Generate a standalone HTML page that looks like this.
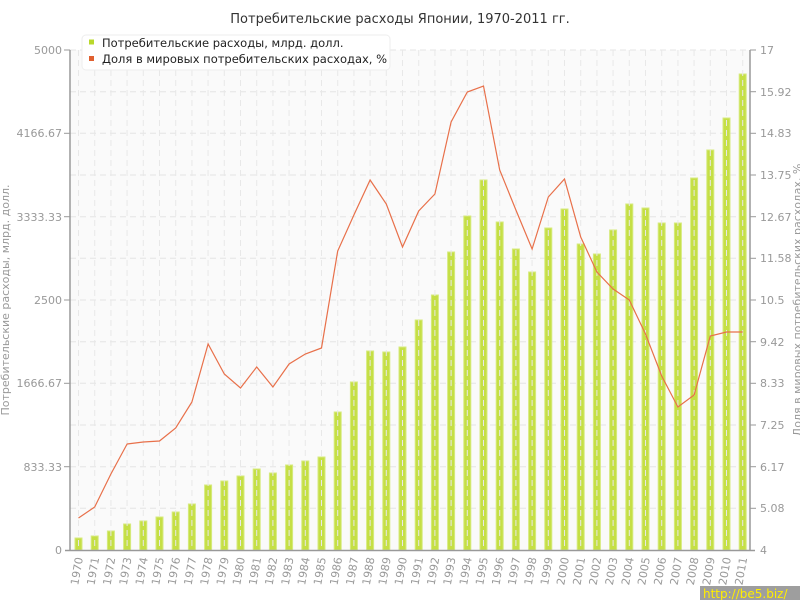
<!DOCTYPE html>
<html><head><meta charset="utf-8"><style>
html,body{margin:0;padding:0;background:#fff;}
svg{display:block;font-family:"DejaVu Sans","Liberation Sans",sans-serif;}
.t{font-size:11px;fill:#999;}
</style></head><body>
<svg width="800" height="600" viewBox="0 0 800 600">
<rect x="70" y="50" width="680" height="500" fill="#fafafa"/>
<g stroke="#e4e4e4" stroke-dasharray="6,4" stroke-width="1">
<line x1="70" x2="750" y1="91.7" y2="91.7"/><line x1="70" x2="750" y1="133.3" y2="133.3"/><line x1="70" x2="750" y1="175" y2="175"/><line x1="70" x2="750" y1="216.7" y2="216.7"/><line x1="70" x2="750" y1="258.3" y2="258.3"/><line x1="70" x2="750" y1="300" y2="300"/><line x1="70" x2="750" y1="341.7" y2="341.7"/><line x1="70" x2="750" y1="383.3" y2="383.3"/><line x1="70" x2="750" y1="425" y2="425"/><line x1="70" x2="750" y1="466.7" y2="466.7"/><line x1="70" x2="750" y1="508.3" y2="508.3"/><line x1="70" x2="750" y1="50" y2="50"/>
</g>
<g fill="#c5df45" stroke="#d6ea7e" stroke-width="1">
<rect x="75" y="538" width="7" height="12"/><rect x="91.2" y="536" width="7" height="14"/><rect x="107.4" y="531" width="7" height="19"/><rect x="123.6" y="524" width="7" height="26"/><rect x="139.8" y="521" width="7" height="29"/><rect x="156" y="517" width="7" height="33"/><rect x="172.2" y="512" width="7" height="38"/><rect x="188.4" y="504" width="7" height="46"/><rect x="204.6" y="485" width="7" height="65"/><rect x="220.8" y="481" width="7" height="69"/><rect x="237" y="476" width="7" height="74"/><rect x="253.2" y="469" width="7" height="81"/><rect x="269.4" y="473" width="7" height="77"/><rect x="285.6" y="465" width="7" height="85"/><rect x="301.8" y="461" width="7" height="89"/><rect x="318" y="457" width="7" height="93"/><rect x="334.2" y="412" width="7" height="138"/><rect x="350.4" y="382" width="7" height="168"/><rect x="366.6" y="351" width="7" height="199"/><rect x="382.8" y="352" width="7" height="198"/><rect x="399" y="347" width="7" height="203"/><rect x="415.2" y="320" width="7" height="230"/><rect x="431.4" y="295" width="7" height="255"/><rect x="447.6" y="252" width="7" height="298"/><rect x="463.8" y="216" width="7" height="334"/><rect x="480" y="180" width="7" height="370"/><rect x="496.2" y="222" width="7" height="328"/><rect x="512.4" y="249" width="7" height="301"/><rect x="528.6" y="272" width="7" height="278"/><rect x="544.8" y="228" width="7" height="322"/><rect x="561" y="209" width="7" height="341"/><rect x="577.2" y="244" width="7" height="306"/><rect x="593.4" y="254" width="7" height="296"/><rect x="609.6" y="230" width="7" height="320"/><rect x="625.8" y="204" width="7" height="346"/><rect x="642" y="208" width="7" height="342"/><rect x="658.2" y="223" width="7" height="327"/><rect x="674.4" y="223" width="7" height="327"/><rect x="690.6" y="178" width="7" height="372"/><rect x="706.8" y="150" width="7" height="400"/><rect x="723" y="118" width="7" height="432"/><rect x="739.2" y="74" width="7" height="476"/>
</g>
<g stroke="#e8e8e8" stroke-dasharray="6,4" stroke-width="1">
<line x1="78.5" x2="78.5" y1="50" y2="550"/><line x1="94.7" x2="94.7" y1="50" y2="550"/><line x1="110.9" x2="110.9" y1="50" y2="550"/><line x1="127.1" x2="127.1" y1="50" y2="550"/><line x1="143.3" x2="143.3" y1="50" y2="550"/><line x1="159.5" x2="159.5" y1="50" y2="550"/><line x1="175.7" x2="175.7" y1="50" y2="550"/><line x1="191.9" x2="191.9" y1="50" y2="550"/><line x1="208.1" x2="208.1" y1="50" y2="550"/><line x1="224.3" x2="224.3" y1="50" y2="550"/><line x1="240.5" x2="240.5" y1="50" y2="550"/><line x1="256.7" x2="256.7" y1="50" y2="550"/><line x1="272.9" x2="272.9" y1="50" y2="550"/><line x1="289.1" x2="289.1" y1="50" y2="550"/><line x1="305.3" x2="305.3" y1="50" y2="550"/><line x1="321.5" x2="321.5" y1="50" y2="550"/><line x1="337.7" x2="337.7" y1="50" y2="550"/><line x1="353.9" x2="353.9" y1="50" y2="550"/><line x1="370.1" x2="370.1" y1="50" y2="550"/><line x1="386.3" x2="386.3" y1="50" y2="550"/><line x1="402.5" x2="402.5" y1="50" y2="550"/><line x1="418.7" x2="418.7" y1="50" y2="550"/><line x1="434.9" x2="434.9" y1="50" y2="550"/><line x1="451.1" x2="451.1" y1="50" y2="550"/><line x1="467.3" x2="467.3" y1="50" y2="550"/><line x1="483.5" x2="483.5" y1="50" y2="550"/><line x1="499.7" x2="499.7" y1="50" y2="550"/><line x1="515.9" x2="515.9" y1="50" y2="550"/><line x1="532.1" x2="532.1" y1="50" y2="550"/><line x1="548.3" x2="548.3" y1="50" y2="550"/><line x1="564.5" x2="564.5" y1="50" y2="550"/><line x1="580.7" x2="580.7" y1="50" y2="550"/><line x1="596.9" x2="596.9" y1="50" y2="550"/><line x1="613.1" x2="613.1" y1="50" y2="550"/><line x1="629.3" x2="629.3" y1="50" y2="550"/><line x1="645.5" x2="645.5" y1="50" y2="550"/><line x1="661.7" x2="661.7" y1="50" y2="550"/><line x1="677.9" x2="677.9" y1="50" y2="550"/><line x1="694.1" x2="694.1" y1="50" y2="550"/><line x1="710.3" x2="710.3" y1="50" y2="550"/><line x1="726.5" x2="726.5" y1="50" y2="550"/><line x1="742.7" x2="742.7" y1="50" y2="550"/>
</g>
<polyline fill="none" stroke="#e8704a" stroke-width="1.2" points="78.5,518 94.7,507 110.9,474 127.1,444 143.3,442 159.5,441 175.7,428 191.9,402 208.1,344 224.3,374 240.5,388 256.7,367 272.9,387 289.1,364 305.3,354 321.5,348 337.7,251 353.9,215 370.1,180 386.3,204 402.5,247 418.7,211 434.9,194 451.1,122 467.3,92 483.5,86 499.7,170 515.9,210 532.1,249 548.3,197 564.5,179 580.7,237 596.9,272 613.1,289 629.3,300 645.5,334 661.7,376 677.9,407 694.1,395 710.3,336 726.5,332 742.7,332"/>
<g stroke="#999" stroke-width="1.5">
<line x1="70" x2="70" y1="50" y2="551"/><line x1="750" x2="750" y1="50" y2="551"/><line x1="65" x2="755" y1="550.5" y2="550.5"/>
</g>
<g stroke="#999" stroke-width="1">
<line x1="64" x2="70" y1="50" y2="50"/><line x1="64" x2="70" y1="133.3" y2="133.3"/><line x1="64" x2="70" y1="216.7" y2="216.7"/><line x1="64" x2="70" y1="300" y2="300"/><line x1="64" x2="70" y1="383.3" y2="383.3"/><line x1="64" x2="70" y1="466.7" y2="466.7"/>
<line x1="750" x2="756" y1="50" y2="50"/><line x1="750" x2="756" y1="91.7" y2="91.7"/><line x1="750" x2="756" y1="133.3" y2="133.3"/><line x1="750" x2="756" y1="175" y2="175"/><line x1="750" x2="756" y1="216.7" y2="216.7"/><line x1="750" x2="756" y1="258.3" y2="258.3"/><line x1="750" x2="756" y1="300" y2="300"/><line x1="750" x2="756" y1="341.7" y2="341.7"/><line x1="750" x2="756" y1="383.3" y2="383.3"/><line x1="750" x2="756" y1="425" y2="425"/><line x1="750" x2="756" y1="466.7" y2="466.7"/><line x1="750" x2="756" y1="508.3" y2="508.3"/>
</g>
<g class="t" text-anchor="end">
<text x="62" y="54">5000</text><text x="62" y="137">4166.67</text><text x="62" y="221">3333.33</text><text x="62" y="304">2500</text><text x="62" y="387">1666.67</text><text x="62" y="471">833.33</text><text x="62" y="554">0</text>
</g>
<g class="t">
<text x="760" y="54">17</text><text x="760" y="96">15.92</text><text x="760" y="137">14.83</text><text x="760" y="179">13.75</text><text x="760" y="221">12.67</text><text x="760" y="262">11.58</text><text x="760" y="304">10.5</text><text x="760" y="346">9.42</text><text x="760" y="387">8.33</text><text x="760" y="429">7.25</text><text x="760" y="471">6.17</text><text x="760" y="512">5.08</text><text x="760" y="554">4</text>
</g>
<g class="t" text-anchor="end" font-size="12">
<text transform="translate(83,558) rotate(-80)">1970</text><text transform="translate(99.2,558) rotate(-80)">1971</text><text transform="translate(115.4,558) rotate(-80)">1972</text><text transform="translate(131.6,558) rotate(-80)">1973</text><text transform="translate(147.8,558) rotate(-80)">1974</text><text transform="translate(164,558) rotate(-80)">1975</text><text transform="translate(180.2,558) rotate(-80)">1976</text><text transform="translate(196.4,558) rotate(-80)">1977</text><text transform="translate(212.6,558) rotate(-80)">1978</text><text transform="translate(228.8,558) rotate(-80)">1979</text><text transform="translate(245,558) rotate(-80)">1980</text><text transform="translate(261.2,558) rotate(-80)">1981</text><text transform="translate(277.4,558) rotate(-80)">1982</text><text transform="translate(293.6,558) rotate(-80)">1983</text><text transform="translate(309.8,558) rotate(-80)">1984</text><text transform="translate(326,558) rotate(-80)">1985</text><text transform="translate(342.2,558) rotate(-80)">1986</text><text transform="translate(358.4,558) rotate(-80)">1987</text><text transform="translate(374.6,558) rotate(-80)">1988</text><text transform="translate(390.8,558) rotate(-80)">1989</text><text transform="translate(407,558) rotate(-80)">1990</text><text transform="translate(423.2,558) rotate(-80)">1991</text><text transform="translate(439.4,558) rotate(-80)">1992</text><text transform="translate(455.6,558) rotate(-80)">1993</text><text transform="translate(471.8,558) rotate(-80)">1994</text><text transform="translate(488,558) rotate(-80)">1995</text><text transform="translate(504.2,558) rotate(-80)">1996</text><text transform="translate(520.4,558) rotate(-80)">1997</text><text transform="translate(536.6,558) rotate(-80)">1998</text><text transform="translate(552.8,558) rotate(-80)">1999</text><text transform="translate(569,558) rotate(-80)">2000</text><text transform="translate(585.2,558) rotate(-80)">2001</text><text transform="translate(601.4,558) rotate(-80)">2002</text><text transform="translate(617.6,558) rotate(-80)">2003</text><text transform="translate(633.8,558) rotate(-80)">2004</text><text transform="translate(650,558) rotate(-80)">2005</text><text transform="translate(666.2,558) rotate(-80)">2006</text><text transform="translate(682.4,558) rotate(-80)">2007</text><text transform="translate(698.6,558) rotate(-80)">2008</text><text transform="translate(714.8,558) rotate(-80)">2009</text><text transform="translate(731,558) rotate(-80)">2010</text><text transform="translate(747.2,558) rotate(-80)">2011</text>
</g>
<text class="t" text-anchor="middle" transform="translate(9,300) rotate(-90)">Потребительские расходы, млрд. долл.</text>
<text class="t" text-anchor="middle" transform="translate(801,300) rotate(-90)">Доля в мировых потребительских расходах, %</text>
<text x="400" y="23" text-anchor="middle" font-size="13" fill="#333">Потребительские расходы Японии, 1970-2011 гг.</text>
<rect x="82" y="35" width="308" height="35" rx="4" fill="#fff" stroke="#eee"/>
<rect x="89" y="39.5" width="5" height="5" fill="#b9d82b"/>
<rect x="89" y="56" width="5" height="5" fill="#e06030"/>
<text x="102" y="47" font-size="11.5" fill="#222">Потребительские расходы, млрд. долл.</text>
<text x="102" y="63" font-size="11.5" fill="#222">Доля в мировых потребительских расходах, %</text>
<rect x="700" y="586" width="100" height="14" fill="#9e9e9e"/>
<text x="703" y="598" font-size="12" fill="#ffee00">http://be5.biz/</text>
</svg>
</body></html>
